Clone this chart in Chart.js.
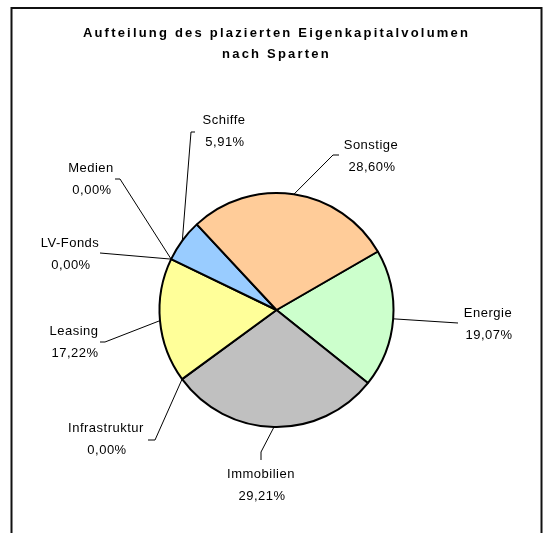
<!DOCTYPE html>
<html>
<head>
<meta charset="utf-8">
<title>Aufteilung nach Sparten</title>
<script src="https://cdn.jsdelivr.net/npm/chart.js@4.4.0/dist/chart.umd.min.js"></script>
<style>
  html, body { margin: 0; padding: 0; background: #fff; }
  #wrap { width: 549px; height: 533px; }
</style>
</head>
<body>
<div id="wrap"><canvas id="sparten-chart" width="549" height="533"></canvas></div>
<script>
// Data (Prozent, Reihenfolge wie im Original)
const categories = ['Energie', 'Immobilien', 'Infrastruktur', 'Leasing', 'LV-Fonds', 'Medien', 'Schiffe', 'Sonstige'];
const shares = [19.07, 29.21, 0.00, 17.22, 0.00, 0.00, 5.91, 28.60];
const sliceColors = ['#CCFFCC', '#C0C0C0', '#FFFFFF', '#FFFF99', '#FFFFFF', '#FFFFFF', '#99CCFF', '#FFCC99'];

// where each label sits + leader line (knee, end) - layout only
const labelSpots = [
    { x: 488, y: 313, knee: null,       end: [458, 323] },
    { x: 261, y: 474, knee: [261, 452], end: [261, 460] },
    { x: 106, y: 428, knee: [155, 440], end: [148, 440] },
    { x: 74,  y: 331, knee: [105, 342], end: [100, 342] },
    { x: 70,  y: 243, knee: null,       end: [100, 253] },
    { x: 91,  y: 168, knee: [120, 179], end: [115, 179] },
    { x: 224, y: 120, knee: [191, 132], end: [195, 132] },
    { x: 371, y: 145, knee: [333, 155], end: [339, 155] }
];

function fmt(v) {
    return v.toFixed(2).replace('.', ',') + '%';
}

// spaced-out title like the Excel export
const titleSpacing = {
    id: 'titleSpacing',
    beforeDraw(chart) {
        chart.ctx.letterSpacing = '2.2px';
    },
    beforeDatasetsDraw(chart) {
        chart.ctx.letterSpacing = '0px';
    }
};

// leader lines + two-line labels
const sliceLabels = {
    id: 'sliceLabels',
    afterDatasetsDraw(chart) {
        const ctx = chart.ctx;
        const meta = chart.getDatasetMeta(0);
        ctx.save();
        ctx.strokeStyle = '#000';
        ctx.lineWidth = 1;
        ctx.fillStyle = '#000';
        ctx.font = "13px 'Liberation Sans', Arial, sans-serif";
        ctx.letterSpacing = '0.5px';
        ctx.textAlign = 'center';
        ctx.textBaseline = 'middle';
        meta.data.forEach(function(arc, i) {
            const p = arc.getProps(['x', 'y', 'startAngle', 'endAngle', 'outerRadius'], true);
            const mid = (p.startAngle + p.endAngle) / 2;
            const ax = p.x + Math.cos(mid) * p.outerRadius;
            const ay = p.y + Math.sin(mid) * p.outerRadius;
            const spot = labelSpots[i];
            ctx.beginPath();
            ctx.moveTo(ax, ay);
            if (spot.knee) ctx.lineTo(spot.knee[0], spot.knee[1]);
            ctx.lineTo(spot.end[0], spot.end[1]);
            ctx.stroke();
            ctx.fillText(categories[i], spot.x, spot.y);
            ctx.fillText(fmt(shares[i]), spot.x + 1, spot.y + 22);
        });
        ctx.restore();
    },
    afterDraw(chart) {
        // outer frame
        const ctx = chart.ctx;
        ctx.save();
        ctx.strokeStyle = '#111';
        ctx.lineWidth = 2;
        ctx.strokeRect(11.5, 8, 530, 540);
        ctx.restore();
    }
};

const ctx = document.getElementById('sparten-chart').getContext('2d');
new Chart(ctx, {
    type: 'pie',
    data: {
        labels: categories,
        datasets: [{
            data: shares,
            backgroundColor: sliceColors,
            borderColor: '#000',
            borderWidth: 2
        }]
    },
    options: {
        responsive: false,
        animation: false,
        rotation: 60,
        radius: 117,
        layout: {
            padding: { left: 4, right: 0, top: 0, bottom: 10 }
        },
        plugins: {
            legend: { display: false },
            tooltip: { enabled: false },
            title: {
                display: true,
                text: ['Aufteilung des plazierten Eigenkapitalvolumen', 'nach Sparten'],
                color: '#000',
                font: {
                    family: "'Liberation Sans', Arial, sans-serif",
                    size: 13,
                    weight: 'bold',
                    lineHeight: 21 / 13
                },
                padding: { top: 22.5, bottom: 32.5 }
            }
        }
    },
    plugins: [titleSpacing, sliceLabels]
});
</script>
</body>
</html>
